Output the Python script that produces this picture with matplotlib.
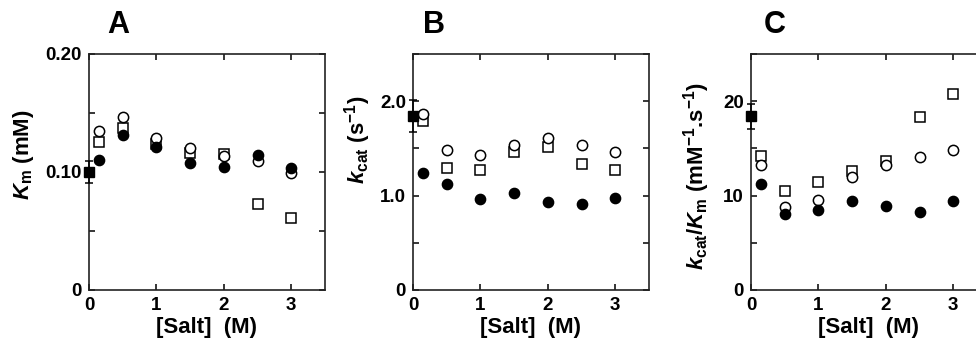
import matplotlib
matplotlib.use("Agg")
import matplotlib.pyplot as plt
from matplotlib.ticker import MultipleLocator, FixedLocator


# salt concentrations (M) for the three mutant series
salt = [0.15, 0.5, 1.0, 1.5, 2.0, 2.5, 3.0]

# panel A: Km (mM)
km_filled = [0.110, 0.131, 0.121, 0.108, 0.1045, 0.114, 0.103]
km_open = [0.135, 0.147, 0.129, 0.120, 0.1135, 0.109, 0.099]
km_square = [0.125, 0.1375, 0.124, 0.116, 0.115, 0.073, 0.061]
km_zero, km_zero_err = 0.100, 0.009

# panel B: kcat (s-1)
kcat_filled = [1.24, 1.12, 0.965, 1.03, 0.93, 0.915, 0.97]
kcat_open = [1.86, 1.48, 1.43, 1.54, 1.61, 1.54, 1.46]
kcat_square = [1.79, 1.29, 1.27, 1.46, 1.52, 1.33, 1.27]
kcat_zero, kcat_zero_err = 1.84, 0.17

# panel C: kcat/Km (mM-1.s-1)
eff_filled = [11.2, 8.0, 8.5, 9.46, 8.93, 8.29, 9.39]
eff_open = [13.2, 8.75, 9.54, 11.96, 13.2, 14.1, 14.8]
eff_square = [14.2, 10.5, 11.4, 12.6, 13.7, 18.3, 20.8]
eff_zero, eff_zero_err = 18.4, 1.3

panel_letters = ["A", "B", "C"]
ylabels = [r"$K_\mathrm{m}$ (mM)",
           r"$k_\mathrm{cat}$ (s$^{-1}$)",
           r"$k_\mathrm{cat}/K_\mathrm{m}$ (mM$^{-1}$.s$^{-1}$)"]
yticks = [[0, 0.10, 0.20], [0, 1.0, 2.0], [0, 10, 20]]
yticklabels = [["0", "0.10", "0.20"], ["0", "1.0", "2.0"], ["0", "10", "20"]]
ytick_minor = [0.05, 0.5, 5]
ylims = [0.20, 2.5, 25]

W, H = 976, 339


def setup_fonts():
    plt.rcParams["font.family"] = ["Liberation Sans", "DejaVu Sans"]
    plt.rcParams["font.weight"] = "bold"
    plt.rcParams["mathtext.fontset"] = "custom"
    plt.rcParams["mathtext.rm"] = "Liberation Sans:bold"
    plt.rcParams["mathtext.bf"] = "Liberation Sans:bold"
    plt.rcParams["mathtext.it"] = "Liberation Sans:italic:bold"
    plt.rcParams["mathtext.sf"] = "Liberation Sans:bold"


def draw_panel(fig, left_px, idx, filled, opened, square, zero, zero_err):
    ax = fig.add_axes([left_px / W, (H - 290) / H, 236 / W, 236 / H])
    ax.plot(salt, square, "s", ms=7.6, mfc="white", mec="black", mew=1.1,
            clip_on=False, zorder=3)
    ax.plot(salt, opened, "o", ms=7.4, mfc="white", mec="black", mew=1.1,
            clip_on=False, zorder=4)
    ax.plot(salt, filled, "o", ms=7.4, mfc="black", mec="black",
            clip_on=False, zorder=5)
    ax.errorbar([0], [zero], yerr=[zero_err], fmt="s", ms=7.4, color="black",
                ecolor="black", elinewidth=1.1, capsize=3, capthick=1.1,
                clip_on=False, zorder=6)

    ax.set_xlim(0, 3.5)
    ax.set_ylim(0, ylims[idx])
    ax.xaxis.set_major_locator(FixedLocator([0, 1, 2, 3]))
    ax.set_yticks(yticks[idx])
    ax.set_yticklabels(yticklabels[idx])
    ax.yaxis.set_minor_locator(MultipleLocator(ytick_minor[idx]))
    ax.tick_params(which="both", direction="in", top=True, right=True,
                   length=4.5, width=1.1, labelsize=13.5, pad=5)
    for lab in ax.get_xticklabels() + ax.get_yticklabels():
        lab.set_fontweight("bold")
    for sp in ax.spines.values():
        sp.set_linewidth(1.2)
        sp.set_color("#222222")

    ax.set_xlabel("[Salt]  (M)", fontsize=16, fontweight="bold", labelpad=2)
    return ax


def main():
    setup_fonts()
    fig = plt.figure(figsize=(W / 100, H / 100), dpi=100)

    lefts = [89, 413, 751]
    series = [
        (km_filled, km_open, km_square, km_zero, km_zero_err),
        (kcat_filled, kcat_open, kcat_square, kcat_zero, kcat_zero_err),
        (eff_filled, eff_open, eff_square, eff_zero, eff_zero_err),
    ]
    for i, (left, data) in enumerate(zip(lefts, series)):
        draw_panel(fig, left, i, *data)

    # panel letters
    for x, letter in zip([118, 434, 775], panel_letters):
        fig.text(x / W, 1 - 25 / H, letter, fontsize=22, fontweight="bold",
                 ha="center", va="center")

    # y labels placed by hand
    for (x, y), label in zip([(24, 155), (358, 140), (697, 176)], ylabels):
        fig.text(x / W, 1 - y / H, label, fontsize=16, fontweight="bold",
                 rotation=90, ha="center", va="center")

    fig.savefig("out.png", dpi=100)


if __name__ == "__main__":
    main()
